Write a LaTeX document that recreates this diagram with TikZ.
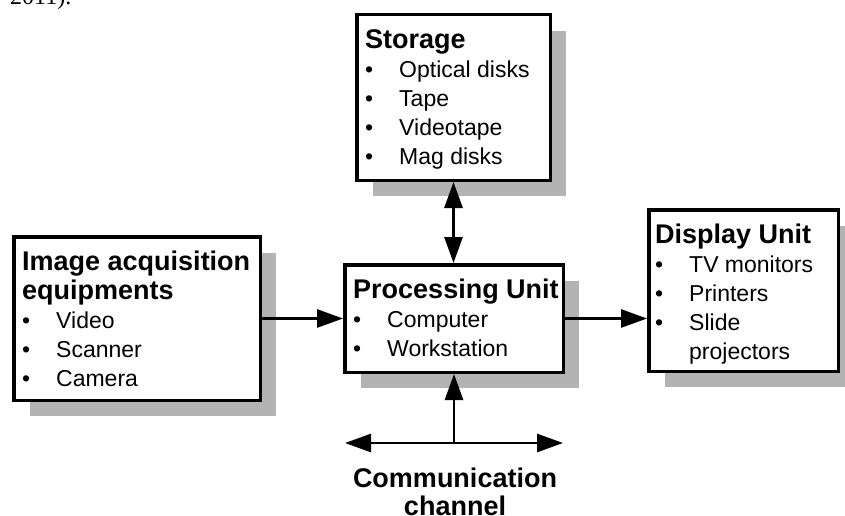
\documentclass[tikz,border=0pt]{standalone}
\usepackage{fontspec}
\setmainfont{Liberation Sans}
\newfontfamily\capfont{Liberation Serif}
\usetikzlibrary{arrows.meta,shadows,calc}
\definecolor{shadowgray}{RGB}{179,179,179}
\newcommand\bxhead[1]{{\fontsize{27}{29}\selectfont\bfseries #1}}
\newcommand\bxfirst[1]{\rule{0pt}{20pt}{\fontsize{27}{29}\selectfont\bfseries #1}}
\newcommand\bxitem[1]{\makebox[34pt][l]{•}#1}
\begin{document}
\begin{tikzpicture}[x=1pt,y=-1pt,
  box/.style={draw=black, line width=3.5pt, fill=white, inner sep=0pt,
    drop shadow={shadow xshift=16pt, shadow yshift=-16pt, fill=shadowgray, opacity=1}},
  boxtext/.style={anchor=north west, inner sep=0pt, align=left, font=\fontsize{23}{29}\selectfont},
  conn/.style={line width=2.8pt, -{Triangle[length=26pt,width=18pt]}},
  dbl/.style={line width=2.8pt, {Triangle[length=26pt,width=18pt]}-{Triangle[length=26pt,width=18pt]}},
  label/.style={font=\fontsize{27}{28}\selectfont\bfseries, align=center, anchor=base, inner sep=0pt}
]
\useasboundingbox (0,0) rectangle (845,516);

\node[anchor=base west, inner sep=0pt, font=\capfont\fontsize{24}{28}\selectfont] (frag) at (10,5) {2011).};

\node[box, minimum width=193.5pt, minimum height=165.5pt] (stor) at (453.5,97.5) {};
\node[box, minimum width=246.5pt, minimum height=163.5pt] (acq) at (137,318.5) {};
\node[box, minimum width=218.5pt, minimum height=107.5pt] (proc) at (454,318.5) {};
\node[box, minimum width=189.5pt, minimum height=161.5pt] (disp) at (743.5,290.5) {};

\node[boxtext] (stortext) at ($(stor.north west)+(10,15)$)
  {\bxfirst{Storage}\\\bxitem{Optical disks}\\\bxitem{Tape}\\\bxitem{Videotape}\\\bxitem{Mag disks}};
\node[boxtext] (acqtext) at ($(acq.north west)+(10,15)$)
  {\bxfirst{Image acquisition}\\\bxhead{equipments}\\\bxitem{Video}\\\bxitem{Scanner}\\\bxitem{Camera}};
\node[boxtext] (proctext) at ($(proc.north west)+(10,15)$)
  {\bxfirst{Processing Unit}\\\bxitem{Computer}\\\bxitem{Workstation}};
\node[boxtext] (disptext) at ($(disp.north west)+(8,15)$)
  {\bxfirst{Display Unit}\\\bxitem{TV monitors}\\\bxitem{Printers}\\\bxitem{Slide}\\\hspace*{34pt}projectors};

\draw[dbl] (stor.south) -- (stor.south |- proc.north);
\draw[conn] (acq.east) -- (proc.west);
\draw[conn] (proc.east) -- (proc.east -| disp.west);
\coordinate (cl) at (345,443);
\coordinate (cr) at (563,443);
\draw[dbl] (cl) -- (cr);
\draw[conn] (proc.south |- cl) -- (proc.south);
\node[label] (comm) at (455,515) {Communication\\channel};
\end{tikzpicture}
\end{document}
